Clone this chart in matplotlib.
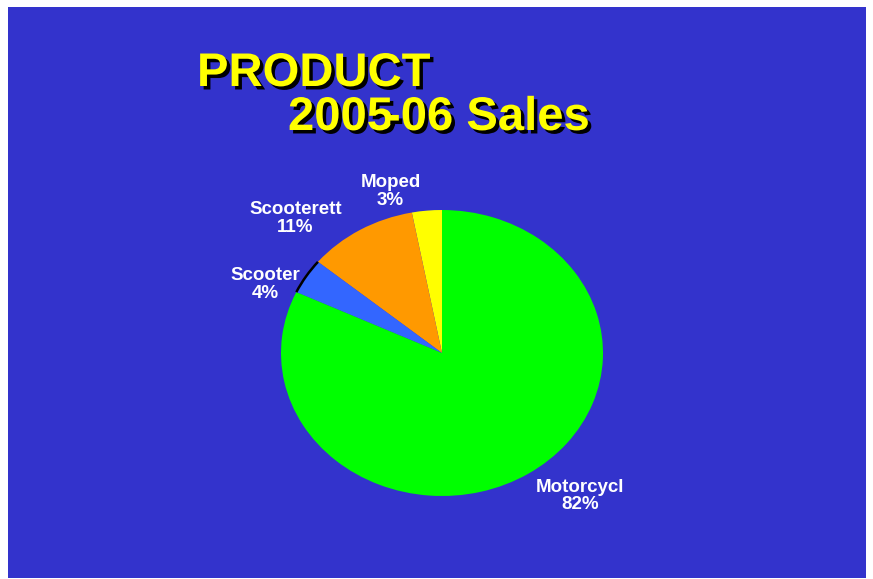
import matplotlib
matplotlib.use("Agg")
import matplotlib.pyplot as plt
import matplotlib.patheffects as pe
from matplotlib.patches import Rectangle, Arc

# sales share by product, 2005-06
products = ["Moped", "Scooterett", "Scooter", "Motorcycl"]
shares = [3, 11, 4, 82]
colors = ["#FFFF00", "#FF9900", "#3366FF", "#00FF00"]

# label anchor points in pie data units
label_pos = [(-0.32, 1.13), (-0.91, 0.94), (-1.10, 0.48), (0.86, -1.00)]

plt.rcParams['font.family'] = ['Liberation Sans', 'DejaVu Sans']

fig = plt.figure(figsize=(8.73, 5.79), dpi=100)
fig.patch.set_facecolor("white")
fig.patches.append(Rectangle((8 / 873, 1 / 579), 858 / 873, 571 / 579,
                             transform=fig.transFigure, facecolor="#3333CC",
                             edgecolor="none", zorder=-10))

shadow = [pe.SimplePatchShadow(offset=(2.5, -2.5), shadow_rgbFace="black", alpha=1.0),
          pe.Normal()]
title_kw = dict(color="#FFFF00", fontsize=34, fontweight="bold", va="baseline",
                path_effects=shadow)
fig.text(197 / 873, 1 - 86 / 579, "PRODUCT", **title_kw)
fig.text(288 / 873, 1 - 130 / 579, "2005", **title_kw)
fig.text(385 / 873, 1 - 130 / 579, "-06 Sales", **title_kw)

# pie is slightly squashed vertically, so axes aspect is left free
ax = fig.add_axes([(442 - 161) / 873, (579 - 496) / 579, 322 / 873, 286 / 579])
ax.set_facecolor("none")
wedges, _ = ax.pie(shares, colors=colors, startangle=90, counterclock=True,
                   radius=1, wedgeprops=dict(linewidth=0))
ax.set_aspect("auto")
ax.set_xlim(-1, 1)
ax.set_ylim(-1, 1)
ax.axis("off")

# dark rim on the scooter slice
w = wedges[2]
ax.add_patch(Arc((0, 0), 2, 2, theta1=w.theta1, theta2=w.theta2,
                 color="black", linewidth=1.8, clip_on=False))

for name, val, (x, y) in zip(products, shares, label_pos):
    ax.text(x, y, f"{name}\n{val}%", color="white", fontsize=13.5, fontweight="bold",
            ha="center", va="center", linespacing=1.05, clip_on=False)

fig.savefig("out.png", dpi=100)
